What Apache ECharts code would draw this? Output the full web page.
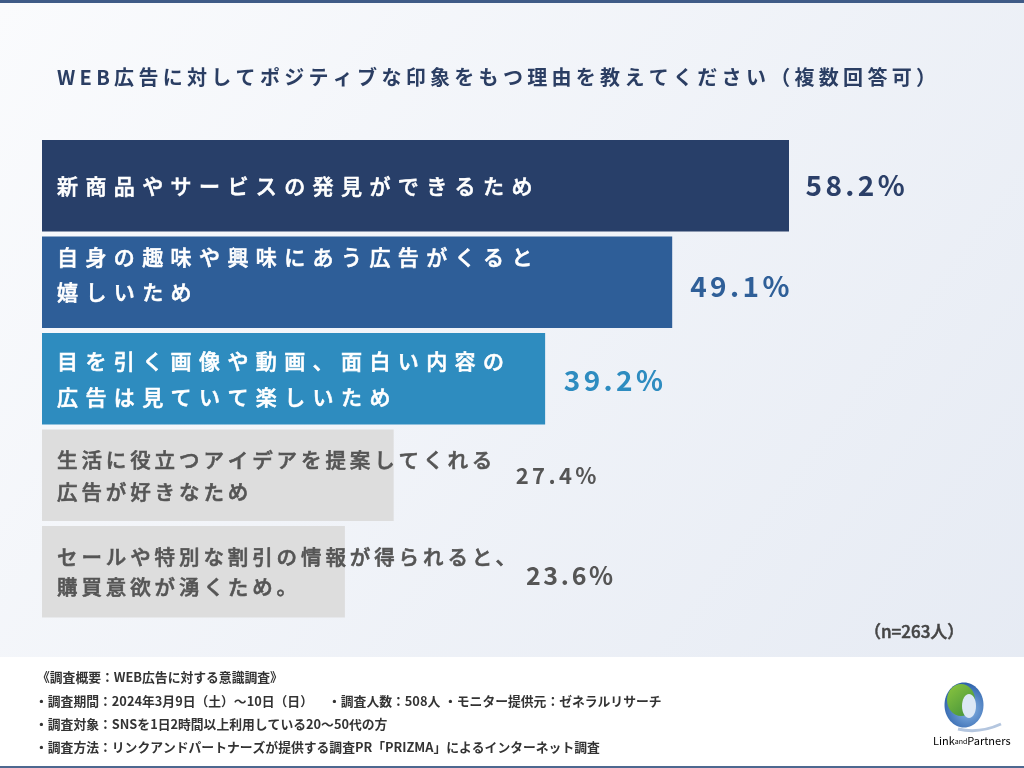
<!DOCTYPE html>
<html>
<head>
<meta charset="utf-8">
<script src="https://cdn.jsdelivr.net/npm/echarts@6/dist/echarts.min.js"></script>
<style>
html,body{margin:0;padding:0;width:1024px;height:768px;overflow:hidden;background:#fff}
#c{width:1024px;height:768px}
</style>
</head>
<body>
<div id="c"></div>
<script>
// ---------------- data ----------------
const titleText = 'WEB広告に対してポジティブな印象をもつ理由を教えてください（複数回答可）';
const categories = [
  '新商品やサービスの発見ができるため',
  '自身の趣味や興味にあう広告がくると\n嬉しいため',
  '目を引く画像や動画、面白い内容の\n広告は見ていて楽しいため',
  '生活に役立つアイデアを提案してくれる\n広告が好きなため',
  'セールや特別な割引の情報が得られると、\n購買意欲が湧くため。'
];
const values = [58.2, 49.1, 39.2, 27.4, 23.6];
const sampleNote = '（n=263人）';
const footerTitle = '《調査概要：WEB広告に対する意識調査》';
const footerPeriod = '・調査期間：2024年3月9日（土）〜10日（日）';
const footerCount = '・調査人数：508人';
const footerMonitor = '・モニター提供元：ゼネラルリサーチ';
const footerTarget = '・調査対象：SNSを1日2時間以上利用している20〜50代の方';
const footerMethod = '・調査方法：リンクアンドパートナーズが提供する調査PR「PRIZMA」によるインターネット調査';

// ---------------- styles ----------------
const FONT = '"Noto Sans CJK JP", "Noto Sans", sans-serif';
const BAR_COLORS = ['#283f69', '#2e5e98', '#2e8cbf', '#dddddd', '#dddddd'];
const VALUE_COLORS = ['#2b3f68', '#2f5f98', '#2e8cc0', '#555555', '#555555'];
const CAT_COLORS = ['#ffffff', '#ffffff', '#ffffff', '#555555', '#555555'];
const CAT_SIZE = [21, 21, 21, 20.5, 20.5];
const CAT_LH = [30, 35, 36, 31.5, 30];
const CAT_OFFSET = [[0, 0], [0, -8], [0, 0], [0, 1], [0, 0]];
const VAL_SIZE = [28, 28, 28, 22, 25];
const VAL_DIST = [16.5, 18, 18.6, 122, 181];
const VAL_OFFSET = [[0, 0], [0, 4], [0, 2], [0, 0], [0, 4]];
const FOOT_FONT = 'bold 12.8px ' + FONT;

// letter spacing (by font size) applied to canvas text drawing/measuring
const SPACING_BY_SIZE = { '20': 4.3, '20.5': 3.9, '21': 7.4, '28': 3.4, '22': 3.4, '25': 2.7 };
(function () {
  const P = window.CanvasRenderingContext2D && CanvasRenderingContext2D.prototype;
  if (!P || !('letterSpacing' in P)) return;
  const fillText = P.fillText, strokeText = P.strokeText, measureText = P.measureText;
  function apply(ctx) {
    const m = /(\d+(?:\.\d+)?)px/.exec(ctx.font || '');
    const s = (m && SPACING_BY_SIZE[m[1]]) ? SPACING_BY_SIZE[m[1]] : 0;
    ctx.letterSpacing = s + 'px';
  }
  P.fillText = function () { apply(this); return fillText.apply(this, arguments); };
  P.strokeText = function () { apply(this); return strokeText.apply(this, arguments); };
  P.measureText = function () { apply(this); return measureText.apply(this, arguments); };
})();

const chart = echarts.init(document.getElementById('c'), null, { renderer: 'canvas' });

const barData = values.map((v, i) => ({
  value: v,
  itemStyle: { color: BAR_COLORS[i] },
  label: {
    color: CAT_COLORS[i],
    textBorderColor: CAT_COLORS[i],
    textBorderWidth: 0.6,
    fontSize: CAT_SIZE[i],
    lineHeight: CAT_LH[i],
    offset: CAT_OFFSET[i]
  }
}));
const valueData = values.map((v, i) => ({
  value: v,
  label: {
    color: VALUE_COLORS[i],
    fontSize: VAL_SIZE[i],
    distance: VAL_DIST[i],
    offset: VAL_OFFSET[i]
  }
}));

const option = {
  animation: false,
  grid: { left: 42, top: 137.5, width: 770.1, height: 482.5, containLabel: false },
  xAxis: { type: 'value', min: 0, max: 60, show: false },
  yAxis: { type: 'category', data: categories, inverse: true, show: false },
  graphic: [
    { type: 'rect', shape: { x: 0, y: 0, width: 1024, height: 768 }, silent: true,
      style: { fill: new echarts.graphic.LinearGradient(0, 0, 1, 1, [
        { offset: 0, color: '#fafbfd' }, { offset: 1, color: '#e5eaf3' }]) } },
    { type: 'rect', shape: { x: 0, y: 0, width: 1024, height: 3 }, style: { fill: '#3f5b87' }, silent: true },
    { type: 'rect', shape: { x: 0, y: 657, width: 1024, height: 109 }, style: { fill: '#ffffff' }, silent: true },
    { type: 'rect', shape: { x: 0, y: 766, width: 1024, height: 2 }, style: { fill: '#4d6890' }, silent: true },
    { type: 'text', x: 57, y: 77, silent: true,
      style: { text: titleText, font: 'bold 20px ' + FONT, fill: '#2b3e63', verticalAlign: 'middle' } },
    { type: 'text', x: 864, y: 632, silent: true,
      style: { text: sampleNote, font: '500 17px ' + FONT, fill: '#444444', verticalAlign: 'middle',
        stroke: '#444444', lineWidth: 0.5 } },
    { type: 'text', x: 37, y: 677, silent: true,
      style: { text: footerTitle, font: FOOT_FONT, fill: '#333333', verticalAlign: 'middle' } },
    { type: 'text', x: 35, y: 701, silent: true,
      style: { text: footerPeriod, font: FOOT_FONT, fill: '#333333', verticalAlign: 'middle' } },
    { type: 'text', x: 328, y: 701, silent: true,
      style: { text: footerCount, font: FOOT_FONT, fill: '#333333', verticalAlign: 'middle' } },
    { type: 'text', x: 444, y: 701, silent: true,
      style: { text: footerMonitor, font: FOOT_FONT, fill: '#333333', verticalAlign: 'middle' } },
    { type: 'text', x: 35, y: 724, silent: true,
      style: { text: footerTarget, font: FOOT_FONT, fill: '#333333', verticalAlign: 'middle' } },
    { type: 'text', x: 35, y: 747, silent: true,
      style: { text: footerMethod, font: FOOT_FONT, fill: '#333333', verticalAlign: 'middle' } },
    // logo
    { type: 'bezierCurve', silent: true,
      shape: { x1: 958, y1: 729, cpx1: 975, cpy1: 733, cpx2: 990, cpy2: 729, x2: 1001, y2: 724 },
      style: { stroke: '#b4c6df', lineWidth: 3, fill: null } },
    { type: 'ellipse', silent: true, shape: { cx: 964, cy: 705, rx: 19.5, ry: 22.5 },
      style: { fill: new echarts.graphic.RadialGradient(0.6, 0.6, 0.7, [
        { offset: 0, color: '#8ab8e8' }, { offset: 1, color: '#2a5ea8' }]) } },
    { type: 'ellipse', silent: true, shape: { cx: 961, cy: 700, rx: 14, ry: 16 },
      style: { fill: new echarts.graphic.LinearGradient(0, 0, 1, 1, [
        { offset: 0, color: '#8cc63f' }, { offset: 1, color: '#3f8f3a' }]) } },
    { type: 'ellipse', silent: true, shape: { cx: 969, cy: 706, rx: 7, ry: 12 },
      style: { fill: '#dce8f5' } },
    { type: 'text', x: 933, y: 741, silent: true,
      style: { text: '{a|Link}{b|and}{a|Partners}', verticalAlign: 'middle', rich: {
        a: { fontSize: 11, fontFamily: FONT, color: '#555555' },
        b: { fontSize: 7, fontFamily: FONT, color: '#555555' } } } }
  ],
  series: [
    {
      type: 'bar',
      data: barData,
      barWidth: 91.5,
      silent: true,
      label: {
        show: true,
        position: 'insideLeft',
        distance: 15,
        formatter: '{b}',
        fontFamily: FONT,
        fontWeight: 500,
        overflow: 'none'
      },
      z: 2
    },
    {
      type: 'bar',
      data: valueData,
      barWidth: 91.5,
      barGap: '-100%',
      silent: true,
      itemStyle: { color: 'rgba(0,0,0,0)' },
      label: {
        show: true,
        position: 'right',
        formatter: (p) => p.value.toFixed(1) + '%',
        fontFamily: FONT,
        fontWeight: 'bold'
      },
      z: 3
    }
  ]
};
chart.setOption(option);
</script>
</body>
</html>
